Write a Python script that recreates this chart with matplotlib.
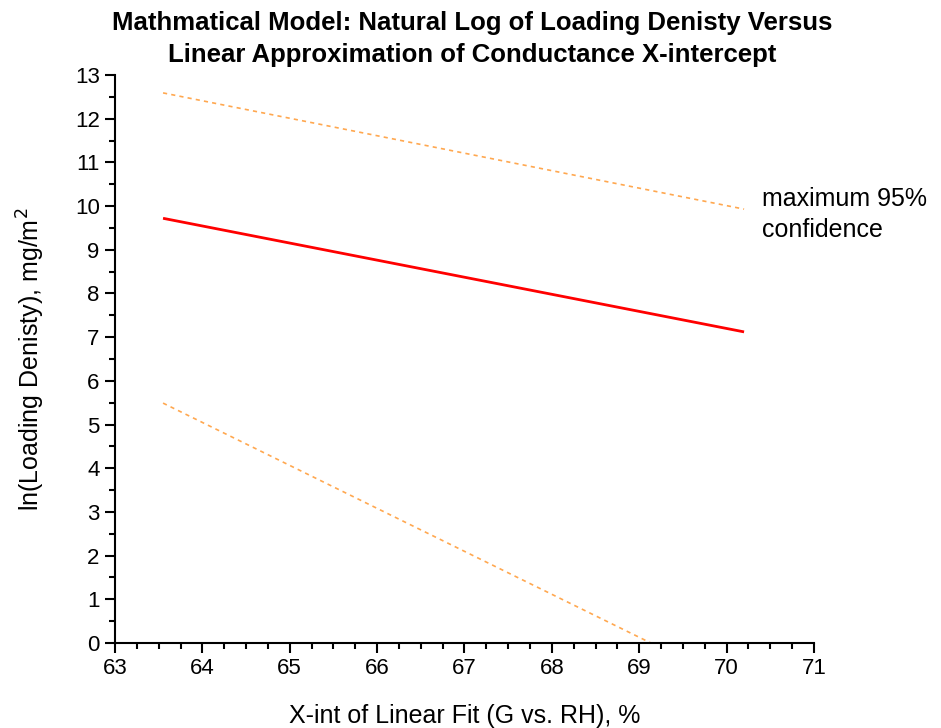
import matplotlib
matplotlib.use("Agg")
import matplotlib.pyplot as plt
from matplotlib.ticker import MultipleLocator

plt.rcParams['font.family'] = ['Liberation Sans', 'DejaVu Sans']

# Data
x_ends = [63.55, 70.2]
fit_y = [9.72, 7.12]
upper_y = [12.59, 9.93]
lower_x = [63.55, 70.2]
lower_y = [5.49, -1.05]

fig = plt.figure(figsize=(9.41, 7.28), dpi=100)
ax = fig.add_axes([0.1222, 0.1168, 0.865 - 0.1222, 0.897 - 0.1168])

ax.plot(x_ends, fit_y, color='#ff0000', lw=2.0, solid_capstyle='butt')
ax.plot(x_ends, upper_y, color='#ffa850', lw=1.2, linestyle=(0, (2.5, 2.5)))
ax.plot(lower_x, lower_y, color='#ffa850', lw=1.2, linestyle=(0, (2.5, 2.5)))

ax.set_xlim(63, 71)
ax.set_ylim(0, 13)
ax.xaxis.set_major_locator(MultipleLocator(1))
ax.xaxis.set_minor_locator(MultipleLocator(0.25))
ax.yaxis.set_major_locator(MultipleLocator(1))
ax.yaxis.set_minor_locator(MultipleLocator(0.5))

for s in ['top', 'right']:
    ax.spines[s].set_visible(False)
for s in ['left', 'bottom']:
    ax.spines[s].set_linewidth(1.5)

ax.tick_params(which='major', direction='out', length=7, width=1.5, labelsize=16, pad=4)
ax.tick_params(which='minor', direction='out', length=4, width=1.5)

ax.set_xlabel('X-int of Linear Fit (G vs. RH), %', fontsize=18, labelpad=18)
ax.set_ylabel('ln(Loading Denisty), mg/m$^2$', fontsize=18, labelpad=20)

fig.text(0.502, 0.985, 'Mathmatical Model: Natural Log of Loading Denisty Versus\nLinear Approximation of Conductance X-intercept',
         ha='center', va='top', fontsize=18.5, fontweight='bold', linespacing=1.4)

ax.text(70.41, 9.8, 'maximum 95%\nconfidence', fontsize=18, ha='left', va='center', linespacing=1.35)

fig.savefig('out.png', dpi=100)
